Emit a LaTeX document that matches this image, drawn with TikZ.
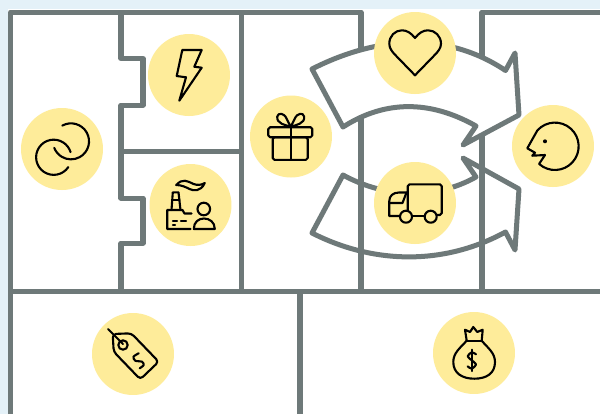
\documentclass[tikz,border=0pt]{standalone}
\usepackage{xcolor}
\usetikzlibrary{positioning}
\definecolor{wallgrey}{HTML}{6E7979}
\definecolor{spotyellow}{HTML}{FEEC9A}
\definecolor{skyback}{HTML}{E4F1F8}
\begin{document}
\begin{tikzpicture}[
  x=0.02cm,y=-0.02cm,
  wall/.style={draw=wallgrey,line width=2.85pt,line join=round},
  spot/.style={circle,fill=spotyellow,minimum size=1.64cm,inner sep=0pt},
  icon/.style={draw=black,line width=1.2pt,line join=round,line cap=round}]
\useasboundingbox (0,0) rectangle (600,414);
\fill[skyback] (0,0) rectangle (600,414);
\fill[white] (8,9) rectangle (600,414);
\draw[wall] (10.7,414) -- (10.7,12) -- (361,12) -- (361,120);
\draw[wall] (482,120) -- (482,12) -- (600,12);
\draw[wall] (121,12) -- (121,58.5) -- (143,58.5) -- (143,105) -- (121,105) -- (121,198) -- (143,198)
  -- (143,243) -- (121,243) -- (121,291);
\draw[wall] (121,151.5) -- (241.5,151.5);
\draw[wall] (241.5,12) -- (241.5,291);
\draw[wall] (361,120) -- (361,291);
\draw[wall] (482,120) -- (482,291);
\draw[wall] (10.7,291) -- (600,291);
\draw[wall] (300,291) -- (300,414);
\draw[wall,fill=white] (312,69) .. controls (375,37) and (445,30) .. (505.5,70.5) -- (515,53) -- (519,115)
  -- (463,145) -- (476,126) .. controls (430,100) and (385,100) .. (343,127) -- cycle;
\draw[wall] (343,175) .. controls (385,198) and (435,200) .. (476,177) -- (463,158) -- (519,189) -- (515,250)
  -- (505.5,232) .. controls (445,265) and (375,265) .. (312,233) -- cycle;
\node[spot] (linkspot) at (62,149) {};
\node[spot] (boltspot) at (189,75) {};
\node[spot] (factoryspot) at (190.5,205) {};
\node[spot] (giftspot) at (291,136.5) {};
\node[spot] (heartspot) at (415,53) {};
\node[spot] (truckspot) at (415,203) {};
\node[spot] (facespot) at (553,146) {};
\node[spot] (tagspot) at (133,354) {};
\node[spot] (bagspot) at (474,353) {};
\begin{scope}[shift={(linkspot)}]
\draw[icon] (6.3,18.1) arc[start angle=34,end angle=343,radius=17.6];
\draw[icon] (0.3,-23.4) arc[start angle=241,end angle=519,radius=18];
\end{scope}
\begin{scope}[shift={(boltspot)}]
\draw[icon] (-6.7,-25) -- (12.7,-25) -- (5.3,-8.3) -- (12.7,-7.3) -- (-9.7,25.7) -- (-3,2.3) -- (-12.3,1) -- cycle;
\end{scope}
\begin{scope}[shift={(factoryspot)}]
\draw[icon] (13.3,4) circle[radius=6.3];
\draw[icon] (3.3,24) .. controls (3.3,17) and (8,13.5) .. (13.5,13.5) .. controls (19,13.5) and (24.3,17) .. (24.3,24) -- cycle;
\draw[icon] (-19,5) -- (-17.7,-12.7) -- (-12,-12.7) -- (-10,5);
\draw[icon] (-18.5,-5) -- (-11,-5);
\draw[icon] (0,24) -- (-23.3,24) -- (-23.3,5) -- (-8,5) -- (-6,8.5) -- (1,8.5);
\draw[icon] (-17.5,16) -- (-13.5,16);
\draw[icon] (-9.5,16) -- (-4.5,16);
\draw[icon] (-17.5,20) -- (-15.5,20);
\draw[icon] (-14.3,-20) .. controls (-8,-27) and (-3,-24) .. (3,-21) .. controls (7,-19.5) and (11,-20) .. (14.3,-22)
  .. controls (10,-13) and (3,-14) .. (-1,-16) .. controls (-5,-18) and (-9,-20) .. (-14.3,-20) -- cycle;
\end{scope}
\begin{scope}[shift={(giftspot)}]
\draw[icon,rounded corners=1pt] (-22.7,-9.3) rectangle (21.3,0.7);
\draw[icon,rounded corners=1pt] (-18.3,0.7) rectangle (16.7,23.3);
\draw[icon] (-0.3,-9.3) -- (-0.3,23.3);
\draw[icon] (-0.3,-10) .. controls (-5,-11) and (-15,-13) .. (-13.7,-20) .. controls (-13,-24) and (-7,-24) .. (-4.3,-17.7)
  .. controls (-3,-15) and (-1.5,-12) .. (-0.3,-10);
\draw[icon] (-0.3,-10) .. controls (4.4,-11) and (14.4,-13) .. (13.1,-20) .. controls (12.4,-24) and (6.4,-24) .. (3.7,-17.7)
  .. controls (2.4,-15) and (0.9,-12) .. (-0.3,-10);
\end{scope}
\begin{scope}[shift={(heartspot)}]
\draw[icon] (0,-15) .. controls (-4,-20) and (-8,-22.7) .. (-13,-22.7) .. controls (-20,-22.7) and (-25.7,-17) .. (-25.7,-9.3)
  .. controls (-25.7,-4.5) and (-22.5,-1) .. (-20,1.7) -- (0,22.3) -- (20,1.7)
  .. controls (22.5,-1) and (26,-4.5) .. (26,-9.3) .. controls (26,-17) and (20,-22.7) .. (13,-22.7)
  .. controls (8,-22.7) and (4,-20) .. (0,-15) -- cycle;
\end{scope}
\begin{scope}[shift={(truckspot)}]
\draw[icon,rounded corners=1pt] (-7.3,7) -- (-7.3,-18.7) -- (26.7,-18.7) -- (26.7,12) -- (21.7,12);
\draw[icon] (-9,13.7) circle[radius=6];
\draw[icon] (15.7,13.7) circle[radius=6];
\draw[icon] (-3,12.7) -- (9.7,12.7);
\draw[icon] (-7.3,-10.5) -- (-16,-10.5) .. controls (-22,-10.5) and (-25.7,-7) .. (-25.7,-2) -- (-25.7,13) -- (-15,13);
\draw[icon] (-25.7,0) -- (-12.5,0) -- (-8.5,-10.5);
\end{scope}
\begin{scope}[shift={(facespot)}]
\draw[icon] (-13.9,17.9) arc[start angle=132,end angle=-138,radius=23.7] -- (-25.7,2.3) -- (-18,6.7) -- (-20.7,9.7) -- (-8,9) -- cycle;
\fill (-8,-4.7) circle[radius=2];
\end{scope}
\begin{scope}[shift={(tagspot)}]
\draw[icon] (-25,-25) -- (-10,-10);
\draw[icon,rounded corners=2pt] (-20.3,-20) -- (-1.7,-20.7) -- (25.7,7.7) -- (7.3,25.3) -- (-19.3,-2.3) -- cycle;
\draw[icon] (-10,-9) circle[radius=4.7];
\draw[icon] plot[smooth] coordinates {(5.7,-0.7) (0.5,2.7) (2.3,6.7) (9,7.7) (10.7,11) (6.7,14.3)};
\end{scope}
\begin{scope}[shift={(bagspot)}]
\draw[icon] (-7.3,-12.3) -- (7.7,-12.3);
\draw[icon] (-7.3,-12.3) .. controls (-14,-5) and (-20.7,0) .. (-20.7,9) .. controls (-20.7,20) and (-12,25.7) .. (0.3,25.7)
  .. controls (13,25.7) and (21,20) .. (21,9) .. controls (21,0) and (14,-5) .. (7.7,-12.3);
\draw[icon] (-7.3,-12.3) -- (-9,-23.3) -- (-4,-21) -- (-0.7,-26) -- (3.3,-21) -- (8.7,-23.3) -- (7.7,-12.3);
\draw[icon] (-2.3,-3.3) -- (-2.3,18);
\draw[icon] plot[smooth] coordinates {(2,1.3) (-2.3,-0.7) (-6.3,3.3) (-2.3,7.3) (2,11.3) (-2.3,15.7) (-6.3,13.3)};
\end{scope}
\end{tikzpicture}
\end{document}
